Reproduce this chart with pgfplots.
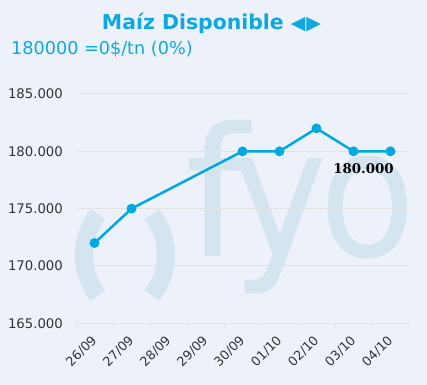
\documentclass[border=0pt]{standalone}
\usepackage{pgfplots}
\pgfplotsset{compat=1.18}
\usepackage{fontspec}
\setmainfont{DejaVu Sans}
\newfontfamily\serifb{DejaVu Serif}
\definecolor{bg}{HTML}{EDF1FA}
\definecolor{fyo}{HTML}{D4E5F0}
\definecolor{cyanline}{HTML}{00A8E1}
\definecolor{titlec}{HTML}{0DA8E1}
\definecolor{gridc}{HTML}{E2E2E2}
\definecolor{labc}{HTML}{333333}
\pgfdeclarelayer{bglayer}
\pgfdeclarelayer{wmlayer}
\pgfsetlayers{bglayer,wmlayer,main}
\begin{document}
\begin{tikzpicture}
\begin{axis}[
  at={(76bp,61.7bp)}, anchor=south west, scale only axis,
  width=333bp, height=229.3bp,
  xmin=-0.5, xmax=8.5, ymin=165000, ymax=185000,
  clip=false,
  axis line style={draw=none},
  xtick={0,...,8},
  xticklabels={26/09,27/09,28/09,29/09,30/09,01/10,02/10,03/10,04/10},
  minor xtick={-0.5,0.5,...,8.5},
  ytick={165000,170000,...,185000},
  ymajorgrids, grid style={draw=gridc, line width=1bp},
  tick align=outside, major tick length=0pt, minor tick length=5bp,
  tick style={draw=gridc, line width=1bp},
  xtick pos=bottom, ytick pos=left,
  scaled y ticks=false,
  yticklabel style={anchor=east, inner sep=0pt, xshift=-13bp, font=\fontsize{13.3}{13.3}\selectfont, text=labc,
    /pgf/number format/.cd, fixed, precision=0, 1000 sep={.}, assume math mode=true},
  xticklabel style={xshift=0bp, yshift=-15bp, rotate=45, anchor=east, inner sep=0pt, font=\fontsize{12.8}{12.8}\selectfont, text=labc},
]
\addplot[cyanline, line width=2.5bp, mark=*, mark size=3.6bp, mark options={solid, fill=cyanline, draw=cyanline}] coordinates {
  (0,172000) (1,175000) (4,180000) (5,180000) (6,182000) (7,180000) (8,180000)
};
\node[inner sep=0pt, font=\serifb\bfseries\fontsize{13.4}{13.4}\selectfont, text=black] at (axis cs:7.27,178460) {180.000};
\end{axis}
\begin{scope}[x=1bp,y=1bp]
\begin{pgfonlayer}{bglayer}
\fill[bg] (0,0) rectangle (427,385);
\end{pgfonlayer}
\begin{pgfonlayer}{wmlayer}
\draw[fyo, line width=18bp] (98,170.6) arc[start angle=142, end angle=218, radius=66];
\draw[fyo, line width=18bp] (152,89.4) arc[start angle=-38, end angle=38, radius=66];
\node[fyo, anchor=base west, inner sep=0pt, font=\fontsize{180}{180}\selectfont] at (185,129) {f};
\node[fyo, anchor=base west, inner sep=0pt, xscale=0.9, font=\fontsize{180}{180}\selectfont] at (232,129) {y};
\node[fyo, anchor=base west, inner sep=0pt, xscale=0.88, font=\fontsize{180}{180}\selectfont] at (319,129) {o};
\end{pgfonlayer}
\node[anchor=base, inner sep=0pt, font=\bfseries\fontsize{20.5}{20.5}\selectfont, text=titlec] at (211.5,355.7) {Maíz Disponible {\fontsize{19}{19}\selectfont ◀\kern1bp▶}};
\node[anchor=base west, inner sep=0pt, font=\fontsize{17.7}{17.7}\selectfont, text=titlec] at (11,331) {180000 =0\$/tn (0\%)};
\pgfresetboundingbox
\useasboundingbox (0,0) rectangle (427,385);
\end{scope}
\end{tikzpicture}
\end{document}
